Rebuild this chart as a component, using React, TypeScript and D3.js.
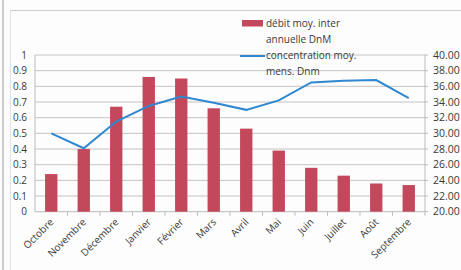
import React from "react";
import * as d3 from "d3";

const months = ["Octobre","Novembre","Décembre","Janvier","Février","Mars","Avril","Mai","Juin","Juillet","Août","Septembre"];
const debit = [0.24,0.40,0.67,0.86,0.85,0.66,0.53,0.39,0.28,0.23,0.18,0.17];
const concentration = [30.0,28.1,31.5,33.5,34.7,33.9,33.0,34.2,36.5,36.7,36.8,34.5];
const leftTicks = [0,0.1,0.2,0.3,0.4,0.5,0.6,0.7,0.8,0.9,1];
const rightTicks = [20,22,24,26,28,30,32,34,36,38,40];
const legendDebit = ["débit moy. inter", "annuelle DnM"];
const legendConc = ["concentration moy.", "mens. Dnm"];

const W = 461, H = 270;
const L = 35, R = 425, T = 55, B = 211.7;
const font = "'Open Sans', 'Liberation Sans', sans-serif";
const textCol = "#3a3a3a";

export default function App() {
  const x = d3.scaleBand<string>().domain(months).range([L, R]).paddingInner(0.62).paddingOuter(0.31);
  const yL = d3.scaleLinear().domain([0, 1]).range([B, T]);
  const yR = d3.scaleLinear().domain([20, 40]).range([B, T]);
  const step = x.step();
  const cx = (m: string) => (x(m) as number) + x.bandwidth() / 2;
  const line = d3.line<number>().x((_, i) => cx(months[i])).y(d => yR(d));

  return (
    <svg width={W} height={H} style={{ position: "absolute", left: 0, top: 0, background: "#fff" }}>
      <rect x={0} y={0} width={W} height={H} fill="#fdfdfd" />
      <line x1={3} y1={0} x2={3} y2={H} stroke="#bbb" strokeWidth={1.5} />
      <line x1={10} y1={10.5} x2={W} y2={10.5} stroke="#ccc" />
      <line x1={10.5} y1={10} x2={10.5} y2={H} stroke="#e2e2e2" />
      {leftTicks.filter(t => t > 0).map(t => (
        <line key={t} x1={L} x2={R} y1={yL(t)} y2={yL(t)} stroke="#c4c4c4" strokeWidth={1} />
      ))}
      <line x1={L} x2={L} y1={T} y2={B} stroke="#bbb" />
      <line x1={R} x2={R} y1={T} y2={B} stroke="#bbb" />
      <line x1={L} x2={R} y1={B} y2={B} stroke="#bbb" />
      {months.map((m, i) => (
        <line key={"t" + i} x1={L + step * (i + 1)} x2={L + step * (i + 1)} y1={B} y2={B + 4} stroke="#bbb" />
      ))}
      {rightTicks.map(t => (
        <line key={"rt" + t} x1={R} x2={R + 3} y1={yR(t)} y2={yR(t)} stroke="#bbb" />
      ))}
      {months.map((m, i) => (
        <rect key={m} x={x(m)} y={yL(debit[i])} width={x.bandwidth()} height={B - yL(debit[i])} fill="#c4485c" />
      ))}
      <path d={line(concentration) || ""} fill="none" stroke="#2f88d0" strokeWidth={2} />
      {leftTicks.map(t => (
        <text key={"l" + t} x={27} y={yL(t) + 3.5} textAnchor="end" fontSize={10} fontFamily={font} fill={textCol}>{String(t)}</text>
      ))}
      {rightTicks.map(t => (
        <text key={"r" + t} x={433} y={yR(t) + 3.5} textAnchor="start" fontSize={10.5} fontFamily={font} fill={textCol}>{t.toFixed(2)}</text>
      ))}
      {months.map(m => (
        <text key={"x" + m} transform={`translate(${cx(m) + 3},${B + 11}) rotate(-45)`} textAnchor="end" fontSize={10} fontFamily={font} fill={textCol}>{m}</text>
      ))}
      <rect x={242} y={20} width={21} height={6.5} fill="#c4485c" />
      {legendDebit.map((s, i) => (
        <text key={"ld" + i} x={266} y={27 + i * 16} fontSize={10} fontFamily={font} fill={textCol}>{s}</text>
      ))}
      <line x1={240} x2={265} y1={56} y2={56} stroke="#2f88d0" strokeWidth={2} />
      {legendConc.map((s, i) => (
        <text key={"lc" + i} x={266} y={59 + i * 16} fontSize={10} fontFamily={font} fill={textCol}>{s}</text>
      ))}
    </svg>
  );
}
